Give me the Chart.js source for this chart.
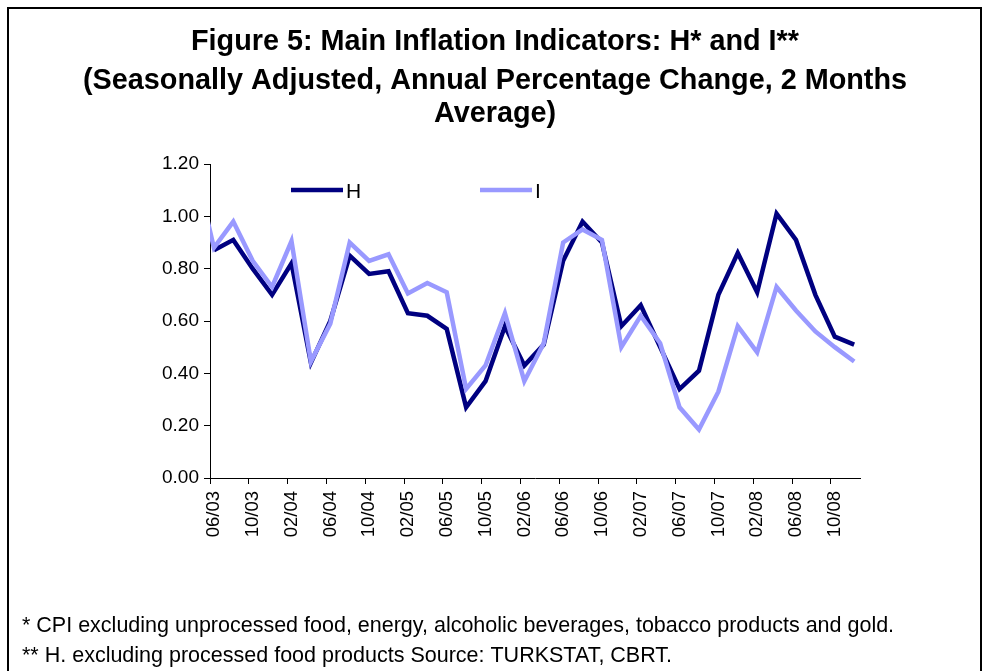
<!DOCTYPE html>
<html>
<head>
<meta charset="utf-8">
<title>Figure 5: Main Inflation Indicators</title>
<script src="https://cdn.jsdelivr.net/npm/chart.js@4.4.1/dist/chart.umd.min.js"></script>
<style>
  html, body { margin: 0; padding: 0; background: #fff; }
</style>
</head>
<body>
<canvas id="chart" width="987" height="671" style="display:block;width:987px;height:671px"></canvas>
<script>
  // periods (2 month steps), 04/03 only feeds the clipped start of I
  const periods = [
    "04/03", "06/03", "08/03", "10/03", "12/03",
    "02/04", "04/04", "06/04", "08/04", "10/04", "12/04",
    "02/05", "04/05", "06/05", "08/05", "10/05", "12/05",
    "02/06", "04/06", "06/06", "08/06", "10/06", "12/06",
    "02/07", "04/07", "06/07", "08/07", "10/07", "12/07",
    "02/08", "04/08", "06/08", "08/08", "10/08", "12/08",
  ];
  const hValues = [
    null, 0.87, 0.91, 0.80, 0.70,
    0.82, 0.44, 0.60, 0.85, 0.78, 0.79,
    0.63, 0.62, 0.57, 0.27, 0.37, 0.58,
    0.43, 0.51, 0.83, 0.98, 0.90, 0.58,
    0.66, 0.50, 0.34, 0.41, 0.70, 0.86,
    0.71, 1.01, 0.91, 0.70, 0.54, 0.51,
  ];
  const iValues = [
    1.20, 0.88, 0.98, 0.83, 0.73,
    0.905, 0.445, 0.59, 0.90, 0.83, 0.855,
    0.705, 0.745, 0.71, 0.34, 0.43, 0.63,
    0.37, 0.515, 0.90, 0.95, 0.91, 0.50,
    0.62, 0.515, 0.27, 0.185, 0.33, 0.58,
    0.48, 0.73, 0.64, 0.56, 0.50, 0.445,
  ];
  const tickLabels = [
    "06/03", "10/03", "02/04", "06/04", "10/04", "02/05", "06/05", "10/05", "02/06",
    "06/06", "10/06", "02/07", "06/07", "10/07", "02/08", "06/08", "10/08",
  ];
  const yTicks = [0, 0.2, 0.4, 0.6, 0.8, 1.0, 1.2];

  const titleLines = [
    "Figure 5: Main Inflation Indicators: H* and I**",
    "(Seasonally Adjusted, Annual Percentage Change, 2 Months",
    "Average)",
  ];
  const footnotes = [
    "* CPI excluding unprocessed food, energy, alcoholic beverages, tobacco products and gold.",
    "** H. excluding processed food products Source: TURKSTAT, CBRT.",
  ];

  const FONT = "'Liberation Sans', Arial, sans-serif";
  const axisStart = -0.4; // axis begins a little before 06/03
  const axisEnd = 66.6;

  // months since 06/03
  function monthOffset(p) {
    const parts = p.split("/");
    return (Number(parts[1]) - 3) * 12 + (Number(parts[0]) - 6);
  }

  function toPoints(values) {
    return periods.map((p, i) => ({ x: monthOffset(p), y: values[i] }));
  }

  // titulo, leyenda, notas y marco
  const decorations = {
    id: "decorations",
    afterDraw(chart) {
      const ctx = chart.ctx;
      ctx.save();

      ctx.strokeStyle = "#000";
      ctx.lineWidth = 2;
      ctx.beginPath();
      ctx.moveTo(8, 671);
      ctx.lineTo(8, 8);
      ctx.lineTo(981, 8);
      ctx.lineTo(981, 671);
      ctx.stroke();

      ctx.fillStyle = "#000";
      ctx.textAlign = "center";
      ctx.textBaseline = "alphabetic";
      ctx.font = "bold 28.8px " + FONT;
      const titleY = [50, 89, 122];
      titleLines.forEach((t, i) => ctx.fillText(t, 495, titleY[i]));

      const legendX = [291, 480];
      ctx.textAlign = "left";
      ctx.font = "21px " + FONT;
      chart.data.datasets.forEach((ds, i) => {
        ctx.strokeStyle = ds.borderColor;
        ctx.lineWidth = ds.borderWidth;
        ctx.beginPath();
        ctx.moveTo(legendX[i], 190);
        ctx.lineTo(legendX[i] + 52, 190);
        ctx.stroke();
        ctx.fillStyle = "#000";
        ctx.fillText(ds.label, legendX[i] + 55, 198);
      });

      ctx.font = "21.5px " + FONT;
      const footY = [632, 662];
      footnotes.forEach((t, i) => ctx.fillText(t, 22, footY[i]));

      ctx.restore();
    },
  };

  new Chart(document.getElementById("chart"), {
    type: "line",
    data: {
      datasets: [
        {
          label: "H",
          data: toPoints(hValues),
          borderColor: "#000080",
          borderWidth: 4.5,
          pointRadius: 0,
          tension: 0,
          order: 1,
          clip: { left: 0, top: 10, right: 10, bottom: 10 },
        },
        {
          label: "I",
          data: toPoints(iValues),
          borderColor: "#9999ff",
          borderWidth: 4.5,
          pointRadius: 0,
          tension: 0,
          order: 0,
          clip: { left: 0, top: 10, right: 10, bottom: 10 },
        },
      ],
    },
    options: {
      responsive: false,
      devicePixelRatio: 1,
      animation: false,
      events: [],
      layout: {
        padding: { left: 150, right: 127, top: 164, bottom: 133 },
      },
      plugins: {
        legend: { display: false },
        tooltip: { enabled: false },
      },
      scales: {
        x: {
          type: "linear",
          min: axisStart,
          max: axisEnd,
          afterBuildTicks: (scale) => {
            scale.ticks = tickLabels.map((l) => ({ value: monthOffset(l) + axisStart }));
          },
          afterFit: (scale) => {
            scale.height = 60;
          },
          ticks: {
            autoSkip: false,
            minRotation: 90,
            maxRotation: 90,
            labelOffset: 4,
            padding: 7,
            color: "#000",
            font: { family: FONT, size: 18.5 },
            callback: (value, index) => tickLabels[index],
          },
          grid: { drawOnChartArea: false, tickLength: 6, color: "#000" },
          border: { color: "#000", width: 1 },
        },
        y: {
          min: 0,
          max: 1.2,
          afterBuildTicks: (scale) => {
            scale.ticks = yTicks.map((v) => ({ value: v }));
          },
          afterFit: (scale) => {
            scale.width = 60;
          },
          ticks: {
            padding: 5,
            color: "#000",
            font: { family: FONT, size: 19 },
            callback: (value) => value.toFixed(2),
          },
          grid: { drawOnChartArea: false, tickLength: 6, color: "#000" },
          border: { color: "#000", width: 1 },
        },
      },
    },
    plugins: [decorations],
  });
</script>
</body>
</html>
